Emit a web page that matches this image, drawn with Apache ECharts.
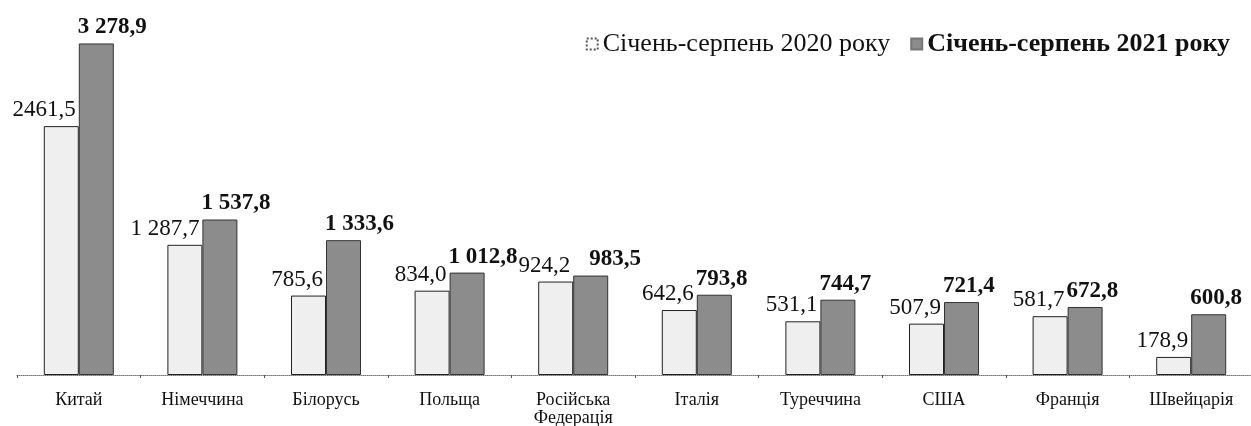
<!DOCTYPE html>
<html>
<head>
<meta charset="utf-8">
<script src="https://cdn.jsdelivr.net/npm/echarts@6/dist/echarts.min.js"></script>
<style>
  html, body { margin: 0; padding: 0; background: #fff; }
  #chart { width: 1251px; height: 426px; }
</style>
</head>
<body>
<div id="chart"></div>
<script>
// країни
const countries = ["Китай", "Німеччина", "Білорусь", "Польща", "Російська\nФедерація",
  "Італія", "Туреччина", "США", "Франція", "Швейцарія"];
// січень-серпень 2020
const values2020 = [2461.5, 1287.7, 785.6, 834.0, 924.2, 642.6, 531.1, 507.9, 581.7, 178.9];
// січень-серпень 2021
const values2021 = [3278.9, 1537.8, 1333.6, 1012.8, 983.5, 793.8, 744.7, 721.4, 672.8, 600.8];
const seriesNames = ["Січень-серпень 2020 року", "Січень-серпень 2021 року"];

const FONT = "Liberation Serif";
const BAR_W = 35;

// формат з комою; для 2020 пробіл лише у Німеччини (як в оригіналі)
function fmt(v, spaced) {
  let s = v.toFixed(1).replace(".", ",");
  if (spaced && v >= 1000) {
    s = s.slice(0, s.length - 5) + " " + s.slice(s.length - 5);
  }
  return s;
}

// у Росії підпис 2021 зсунуто вправо, щоб не налазив на 2020
const data2021 = values2021.map((v, i) =>
  countries[i].startsWith("Російська") ? { value: v, label: { offset: [17, 0] } } : v
);

const chart = echarts.init(document.getElementById("chart"));
chart.setOption({
  backgroundColor: "#fff",
  animation: false,
  grid: { left: 17, right: -2, top: 11, bottom: 51, outerBoundsMode: "none" },
  legend: {
    right: 16,
    top: 26,
    itemWidth: 11,
    itemHeight: 11,
    itemGap: 20,
    icon: "rect",
    textStyle: { fontFamily: FONT, fontSize: 26, color: "#111" },
    data: [
      { name: seriesNames[0], itemStyle: { color: "#fafafa", borderColor: "#555", borderType: "dotted" } },
      { name: seriesNames[1], itemStyle: { borderColor: "#777" }, textStyle: { fontWeight: "bold" } },
    ],
  },
  xAxis: {
    type: "category",
    data: countries,
    axisLine: { lineStyle: { color: "#777", type: "dotted", width: 1 } },
    axisTick: { show: true, length: 3, lineStyle: { color: "#555" } },
    axisLabel: {
      fontFamily: FONT,
      fontSize: 18,
      color: "#111",
      margin: 16,
      lineHeight: 18,
    },
  },
  yAxis: {
    type: "value",
    min: 0,
    max: 3600,
    show: false,
    splitLine: { show: false },
  },
  series: [
    {
      name: seriesNames[0],
      type: "bar",
      data: values2020,
      barWidth: BAR_W,
      barGap: "0%",
      itemStyle: { color: "#efefef", borderColor: "#222", borderWidth: 1 },
      label: {
        show: true,
        position: [BAR_W - 3, -16],
        align: "right",
        verticalAlign: "middle",
        fontFamily: FONT,
        fontSize: 23,
        color: "#111",
        formatter: (p) => fmt(p.value, p.dataIndex === 1),
      },
    },
    {
      name: seriesNames[1],
      type: "bar",
      data: data2021,
      barWidth: BAR_W,
      itemStyle: { color: "#8c8c8c", borderColor: "#333", borderWidth: 1 },
      label: {
        show: true,
        position: [-1, -16],
        align: "left",
        verticalAlign: "middle",
        fontFamily: FONT,
        fontSize: 23,
        fontWeight: "bold",
        color: "#111",
        formatter: (p) => fmt(p.value, true),
      },
    },
  ],
});
</script>
</body>
</html>
